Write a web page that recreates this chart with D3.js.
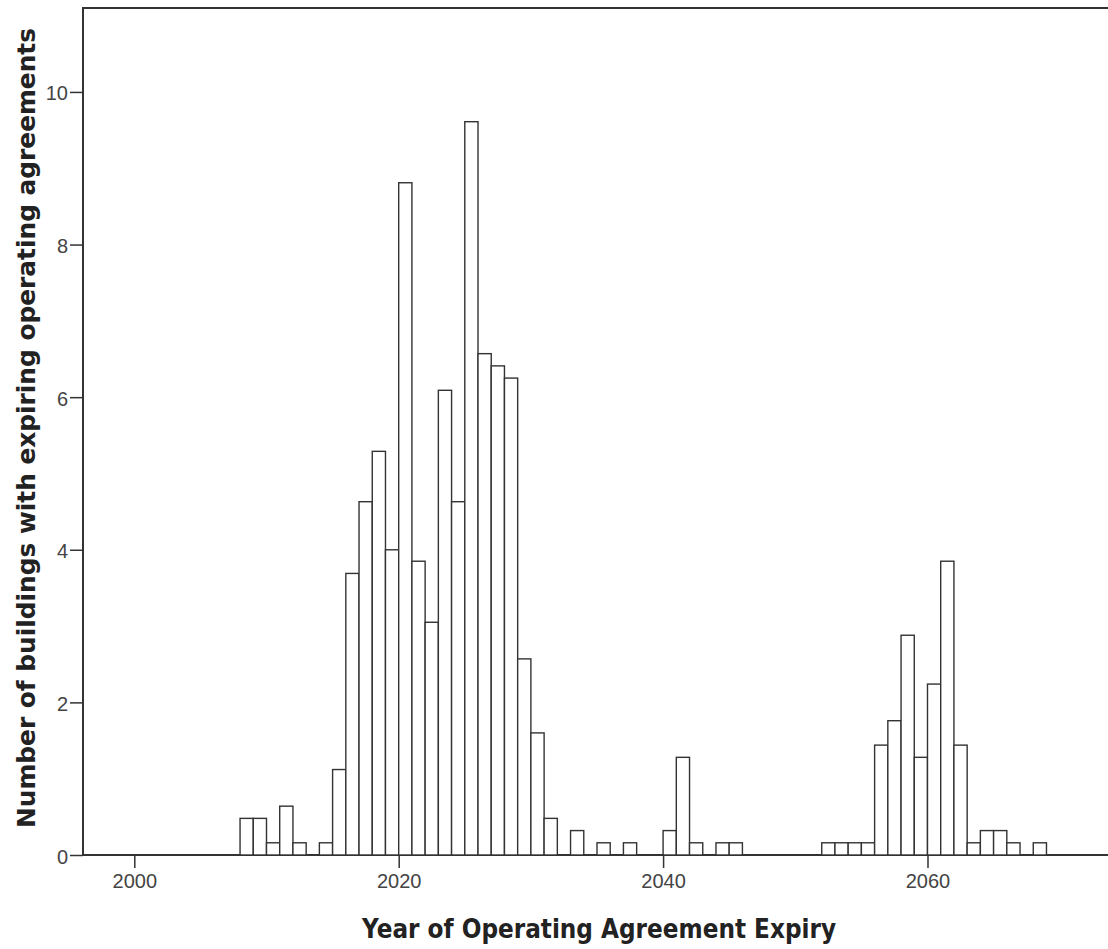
<!DOCTYPE html>
<html>
<head>
<meta charset="utf-8">
<script src="https://cdn.jsdelivr.net/npm/d3@7"></script>
<style>
  body { margin: 0; background: #fff; }
  svg { display: block; }
</style>
</head>
<body>
<script>
// bin start year (each bin is one year wide) and its height
var binYears = [2008, 2009, 2010, 2011, 2012, 2014, 2015, 2016, 2017, 2018, 2019, 2020,
  2021, 2022, 2023, 2024, 2025, 2026, 2027, 2028, 2029, 2030, 2031, 2033, 2035, 2037,
  2040, 2041, 2042, 2044, 2045, 2052, 2053, 2054, 2055, 2056, 2057, 2058, 2059, 2060,
  2061, 2062, 2063, 2064, 2065, 2066, 2068];
var binValues = [0.48, 0.48, 0.16, 0.64, 0.16, 0.16, 1.12, 3.69, 4.63, 5.29, 4.00, 8.81,
  3.85, 3.05, 6.09, 4.63, 9.61, 6.57, 6.41, 6.25, 2.57, 1.60, 0.48, 0.32, 0.16, 0.16,
  0.32, 1.28, 0.16, 0.16, 0.16, 0.16, 0.16, 0.16, 0.16, 1.44, 1.76, 2.88, 1.28, 2.24,
  3.85, 1.44, 0.16, 0.32, 0.32, 0.16, 0.16];
var xTicks = [2000, 2020, 2040, 2060];
var yTicks = [0, 2, 4, 6, 8, 10];
var xTitle = 'Year of Operating Agreement Expiry';
var yTitle = 'Number of buildings with expiring operating agreements';

var W = 1108, H = 949;
var mLeft = 83, mTop = 8, mBottom = 855;

var data = binYears.map(function(y, i) { return { year: y, value: binValues[i] }; });

var svg = d3.select('body')
  .append('svg')
  .attr('width', W)
  .attr('height', H);

var x = d3.scaleLinear().domain([1996.12, 2075]).range([mLeft, mLeft + (2075 - 1996.12) * 13.22]);
var y = d3.scaleLinear().domain([0, 11.1]).range([mBottom, mTop]);

// frame
svg.append('rect')
  .attr('x', mLeft)
  .attr('y', mTop)
  .attr('width', x(2075) - mLeft)
  .attr('height', mBottom - mTop)
  .attr('fill', 'none')
  .attr('stroke', '#333')
  .attr('stroke-width', 2);

// bars
svg.append('g').attr('class', 'bars')
  .selectAll('rect')
  .data(data)
  .enter().append('rect')
  .attr('x', function(d) { return x(d.year); })
  .attr('y', function(d) { return y(d.value); })
  .attr('width', function(d) { return x(d.year + 1) - x(d.year); })
  .attr('height', function(d) { return y(0) - y(d.value); })
  .attr('fill', 'white')
  .attr('stroke', '#333')
  .attr('stroke-width', 1.4);

// axes
var xAxis = svg.append('g')
  .attr('transform', 'translate(0,' + mBottom + ')')
  .call(d3.axisBottom(x).tickValues(xTicks).tickFormat(d3.format('d')).tickSize(13).tickPadding(6));
var yAxis = svg.append('g')
  .attr('transform', 'translate(' + mLeft + ',0)')
  .call(d3.axisLeft(y).tickValues(yTicks).tickSize(13).tickPadding(2));

[xAxis, yAxis].forEach(function(a) {
  a.select('.domain').remove();
  a.selectAll('.tick line').attr('stroke', '#333').attr('stroke-width', 1.5);
  a.selectAll('.tick text')
    .attr('fill', '#444')
    .style('font-family', 'Liberation Sans, Arial, sans-serif')
    .style('font-size', '20px');
});
yAxis.selectAll('.tick text').attr('dy', '0.4em');

// titles
svg.append('text')
  .attr('x', 599)
  .attr('y', 938)
  .attr('text-anchor', 'middle')
  .attr('textLength', 474)
  .attr('lengthAdjust', 'spacingAndGlyphs')
  .style('font-family', 'DejaVu Sans, sans-serif')
  .style('font-weight', 'bold')
  .style('font-size', '26px')
  .attr('fill', '#222')
  .text(xTitle);

svg.append('text')
  .attr('transform', 'translate(35,428) rotate(-90)')
  .attr('text-anchor', 'middle')
  .attr('textLength', 800)
  .attr('lengthAdjust', 'spacingAndGlyphs')
  .style('font-family', 'DejaVu Sans, sans-serif')
  .style('font-weight', 'bold')
  .style('font-size', '25px')
  .attr('fill', '#222')
  .text(yTitle);
</script>
</body>
</html>
